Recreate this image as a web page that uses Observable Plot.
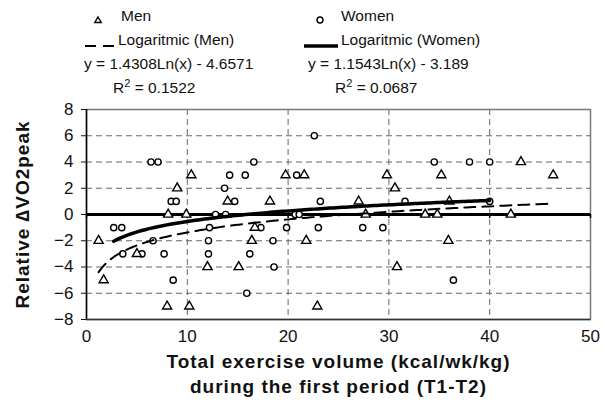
<!DOCTYPE html>
<html><head><meta charset="utf-8">
<script src="https://cdn.jsdelivr.net/npm/d3@7"></script>
<script src="https://cdn.jsdelivr.net/npm/@observablehq/plot@0.6"></script>
<style>
body{margin:0;background:#fff;font-family:"Liberation Sans",Arial,sans-serif;}
#wrap{position:relative;width:603px;height:403px;overflow:hidden;}
#legend{position:absolute;left:0;top:0;width:603px;height:100px;}
.lt{position:absolute;font-size:15.5px;white-space:nowrap;line-height:1;color:#111;}
.lt sup{font-size:11px;vertical-align:6px;line-height:0;}
.sym{position:absolute;}
#chart{position:absolute;left:0;top:100px;}
.ttl{letter-spacing:1px;}
</style></head><body>
<div id="wrap"><div id="legend"></div><div id="chart"></div></div>
<script>
// ---- data ----
const menX = [1.2, 1.7, 5.0, 8.0, 8.1, 9.0, 9.9, 10.2, 10.4, 12.0, 14.0, 15.1, 16.4, 16.7, 18.2, 19.75, 21.6, 21.8, 22.9, 27.0, 27.7, 29.8, 30.6, 30.8, 33.6, 34.8, 35.2, 35.9, 36.0, 42.1, 43.1, 46.3];
const menY = [-2, -5, -3, -7, 0, 2, 0, -7, 3, -4, 1, -4, -2, -1, 1, 3, 3, -2, -7, 1, 0, 3, 2, -4, 0, 0, 3, -2, 1, 0, 4, 3];
const womenX = [2.7, 3.5, 3.6, 5.5, 6.4, 6.6, 7.1, 7.7, 8.4, 8.9, 8.6, 12.2, 12.1, 12.1, 12.8, 13.7, 13.8, 14.2, 14.7, 15.75, 15.9, 16.2, 16.6, 17.3, 18.5, 18.6, 19.85, 20.7, 21.1, 20.85, 22.6, 23.0, 23.2, 27.4, 29.4, 31.6, 34.5, 36.4, 38.0, 40.0, 40.0];
const womenY = [-1, -1, -3, -3, 4, -2, 4, -3, 1, 1, -5, -1, -2, -3, 0, 2, 0, 3, 1, 3, -6, -3, 4, -1, -2, -4, -1, 0, 0, 3, 6, -1, 1, -1, -1, 1, 4, -5, 4, 4, 1];
const menFit = [1.4308, -4.6571];   // y = a ln(x) + b
const womenFit = [1.1543, -3.189];
const menR2 = "0.1522", womenR2 = "0.0687";
const xTicks = [0, 10, 20, 30, 40, 50];
const yTicks = [-8, -6, -4, -2, 0, 2, 4, 6, 8];
const seriesNames = ["Men", "Women"];
const xTitle = ["Total exercise volume (kcal/wk/kg)", "during the first period (T1-T2)"];
const yTitle = "Relative \u2206VO2peak";

// ---- build ----
const men = menX.map((x, i) => ({x, y: menY[i]}));
const women = womenX.map((x, i) => ({x, y: womenY[i]}));
function curve(xs, [a, b]) {
  const [x0, x1] = d3.extent(xs);
  const n = 120;
  return d3.range(n + 1).map(i => {
    const x = x0 + (x1 - x0) * i / n;
    return {x, y: a * Math.log(x) + b};
  });
}
const menCurve = curve(menX, menFit);
const womenCurve = curve(womenX, womenFit);

// ---- legend (HTML) ----
const L = document.getElementById("legend");
function txt(html, left, cy) {
  const s = document.createElement("span");
  s.className = "lt"; s.innerHTML = html;
  s.style.left = left + "px"; s.style.top = (cy - 8.5) + "px";
  L.appendChild(s);
}
function svgSym(inner, left, top, w, h) {
  const d = document.createElement("div");
  d.className = "sym"; d.style.left = left + "px"; d.style.top = top + "px";
  d.innerHTML = `<svg width="${w}" height="${h}">${inner}</svg>`;
  L.appendChild(d);
}
svgSym('<path d="M5,2 L8.2,7.5 L1.8,7.5 Z" fill="#fff" stroke="#000" stroke-width="1.4"/>', 93, 11, 10, 10);
txt(seriesNames[0], 121, 16);
svgSym('<circle cx="5" cy="5" r="3" fill="#fff" stroke="#000" stroke-width="1.4"/>', 315, 11, 10, 10);
txt(seriesNames[1], 341, 16);
svgSym('<line x1="0" y1="4" x2="29" y2="4" stroke="#000" stroke-width="2" stroke-dasharray="11,7"/>', 85, 36, 30, 8);
txt("Logaritmic (" + seriesNames[0] + ")", 118, 40);
svgSym('<line x1="0" y1="4" x2="34" y2="4" stroke="#000" stroke-width="3.5"/>', 304, 36, 35, 8);
txt("Logaritmic (" + seriesNames[1] + ")", 341, 40);
txt(`y = ${menFit[0]}Ln(x) - ${Math.abs(menFit[1])}`, 84, 64);
txt(`y = ${womenFit[0]}Ln(x) - ${Math.abs(womenFit[1])}`, 308, 64);
txt(`R<sup>2</sup> = ${menR2}`, 113, 88);
txt(`R<sup>2</sup> = ${womenR2}`, 335, 88);

// ---- chart ----
const chart = Plot.plot({
  width: 603, height: 303,
  marginTop: 9, marginBottom: 84, marginLeft: 86, marginRight: 13,
  style: {fontFamily: "'Liberation Sans', Arial, sans-serif", fontSize: "17px", color: "#111", background: "#fff"},
  x: {domain: [0, 50], ticks: xTicks, tickSize: 0, tickPadding: 10, label: null, tickFormat: d => String(d)},
  y: {domain: [-8, 8], ticks: yTicks, tickSize: 5, tickPadding: 8, label: null, tickFormat: d => d < 0 ? "\u2212" + Math.abs(d) : String(d)},
  marks: [
    Plot.ruleX(xTicks.filter(d => d > 0 && d < 50), {stroke: "#666", strokeWidth: 1, strokeDasharray: "6,4", strokeOpacity: 1}),
    Plot.ruleY(yTicks.filter(d => d > -8 && d < 8 && d !== 0), {stroke: "#666", strokeWidth: 1, strokeDasharray: "6,4", strokeOpacity: 1}),
    Plot.frame({stroke: "#777", strokeWidth: 1.5}),
    Plot.ruleX([0], {stroke: "#000", strokeWidth: 1.5}),
    Plot.ruleY([-8], {stroke: "#333", strokeWidth: 1.5}),
    Plot.ruleX(xTicks, {y1: 0, y2: -0.3, stroke: "#000", strokeWidth: 1.5}),
    Plot.ruleY([0], {stroke: "#000", strokeWidth: 3.2}),
    Plot.dot(women, {x: "x", y: "y", symbol: "circle", r: 3.1, fill: "#fff", stroke: "#000", strokeWidth: 1.4}),
    Plot.dot(men, {x: "x", y: "y", symbol: "triangle", r: 3.4, fill: "#fff", stroke: "#000", strokeWidth: 1.4}),
    Plot.line(menCurve, {x: "x", y: "y", stroke: "#000", strokeWidth: 2, strokeDasharray: "11,7"}),
    Plot.line(womenCurve, {x: "x", y: "y", stroke: "#000", strokeWidth: 3.5}),
    Plot.text([xTitle[0]], {frameAnchor: "bottom", dy: 48, textAnchor: "middle", fontWeight: "bold", fontSize: 19, fill: "#111", className: "ttl"}),
    Plot.text([xTitle[1]], {frameAnchor: "bottom", dy: 73, textAnchor: "middle", fontWeight: "bold", fontSize: 19, fill: "#111", className: "ttl"}),
    Plot.text([yTitle], {frameAnchor: "left", dx: -64, rotate: -90, textAnchor: "middle", fontWeight: "bold", fontSize: 19, fill: "#111", className: "ttl"})
  ]
});
document.getElementById("chart").appendChild(chart);
</script>
</body></html>
